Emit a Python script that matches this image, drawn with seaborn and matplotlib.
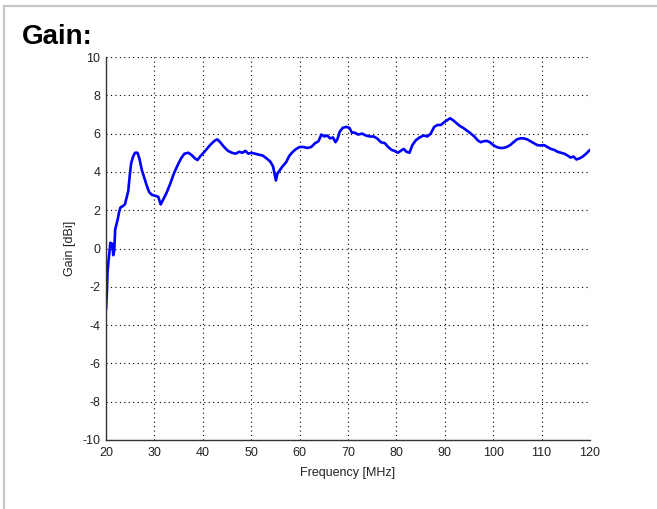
import matplotlib
matplotlib.use("Agg")
import matplotlib.pyplot as plt
from matplotlib.lines import Line2D
import pandas as pd
import seaborn as sns

# data
freq_mhz = [
    20.0, 20.2, 20.3, 20.5, 20.7, 20.9, 21.1, 21.3, 21.5, 21.7, 21.9, 22.1,
    22.4, 22.7, 23.0, 23.4, 23.9, 24.3, 24.6, 24.9, 25.2, 25.6, 26.0, 26.5,
    26.9, 27.4, 27.9, 28.4, 28.9, 29.5, 30.2, 30.8, 31.3, 31.8, 32.5, 33.3,
    34.0, 34.8, 35.5, 36.2, 37.0, 37.6, 38.4, 38.9, 39.6, 40.5, 41.5, 42.4,
    43.0, 43.6, 44.4, 45.2, 46.0, 46.8, 47.5, 48.2, 48.8, 49.4, 50.0, 50.8,
    51.6, 52.4, 53.2, 53.9, 54.5, 54.9, 55.1, 55.4, 55.8, 56.5, 57.2, 57.9,
    58.6, 59.3, 60.0, 60.8, 61.6, 62.4, 63.2, 63.9, 64.5, 65.1, 65.7, 66.3,
    66.9, 67.4, 67.8, 68.3, 68.9, 69.6, 70.3, 70.8, 71.4, 72.1, 72.9, 73.7,
    74.5, 75.3, 76.0, 76.8, 77.6, 78.3, 79.0, 79.6, 80.3, 80.9, 81.5, 82.1,
    82.7, 83.3, 84.0, 84.8, 85.6, 86.4, 87.1, 87.8, 88.5, 89.2, 89.9, 90.5,
    91.1, 91.7, 92.4, 93.1, 93.8, 94.6, 95.4, 96.1, 96.8, 97.4, 98.0, 98.7,
    99.3, 100.0, 100.7, 101.4, 102.1, 102.8, 103.5, 104.2, 104.9, 105.6, 106.3, 107.0,
    107.7, 108.4, 109.1, 109.8, 110.5, 111.2, 111.9, 112.6, 113.3, 114.0, 114.7, 115.4,
    116.0, 116.6, 117.2, 117.8, 118.5, 119.2, 120.0,
]
gain_dbi = [
    -3.2, -2.2, -1.3, -0.7, -0.2, 0.3, 0.1, 0.25, -0.35, -0.1, 1.0, 1.2,
    1.5, 1.9, 2.15, 2.2, 2.3, 2.7, 3.0, 3.8, 4.45, 4.8, 5.0, 5.0,
    4.7, 4.1, 3.7, 3.3, 2.95, 2.8, 2.75, 2.7, 2.3, 2.55, 2.9, 3.4,
    3.9, 4.35, 4.7, 4.95, 5.0, 4.9, 4.7, 4.62, 4.85, 5.1, 5.4, 5.62,
    5.7, 5.55, 5.3, 5.1, 5.0, 4.95, 5.05, 5.0, 5.1, 4.95, 5.0, 4.95,
    4.9, 4.85, 4.7, 4.55, 4.3, 3.8, 3.55, 3.9, 4.05, 4.3, 4.5, 4.85,
    5.05, 5.2, 5.3, 5.3, 5.25, 5.3, 5.5, 5.6, 5.95, 5.85, 5.9, 5.75,
    5.8, 5.55, 5.7, 6.1, 6.3, 6.35, 6.3, 6.05, 6.05, 5.95, 6.0, 5.9,
    5.85, 5.85, 5.75, 5.55, 5.5, 5.3, 5.15, 5.1, 5.0, 5.1, 5.2, 5.05,
    5.0, 5.4, 5.65, 5.8, 5.9, 5.85, 6.0, 6.35, 6.45, 6.45, 6.6, 6.7,
    6.8, 6.7, 6.55, 6.4, 6.3, 6.15, 6.0, 5.85, 5.65, 5.55, 5.6, 5.62,
    5.55, 5.4, 5.3, 5.25, 5.25, 5.3, 5.4, 5.55, 5.7, 5.75, 5.75, 5.7,
    5.6, 5.5, 5.4, 5.38, 5.4, 5.3, 5.2, 5.15, 5.05, 5.0, 4.95, 4.85,
    4.75, 4.8, 4.65, 4.7, 4.8, 4.95, 5.15,
]
x_ticks = list(range(20, 121, 10))
y_ticks = list(range(-10, 11, 2))

df = pd.DataFrame({"Frequency [MHz]": freq_mhz, "Gain [dBi]": gain_dbi})

sns.set_style("white")
plt.rcParams["font.family"] = ["Liberation Sans", "DejaVu Sans"]
plt.rcParams["axes.unicode_minus"] = False  # plain hyphen like the original

fig = plt.figure(figsize=(6.57, 5.09), dpi=100)
ax = fig.add_axes([106 / 657, 1 - 440 / 509, 484 / 657, 383 / 509])

sns.lineplot(data=df, x="Frequency [MHz]", y="Gain [dBi]", ax=ax,
             color="#0000ff", linewidth=1.9, estimator=None, sort=False)

ax.set_xlim(20, 120)
ax.set_ylim(-10, 10)
ax.set_xticks(x_ticks)
ax.set_yticks(y_ticks)

# dotted MATLAB-ish grid
ax.grid(True, color="black", linestyle=(0, (1, 3)), linewidth=0.8)
ax.set_axisbelow(True)

for s in ["top", "right"]:
    ax.spines[s].set_visible(False)
for s in ["left", "bottom"]:
    ax.spines[s].set_color("#333333")
    ax.spines[s].set_linewidth(1.0)

ax.tick_params(direction="in", length=4, width=0.8, color="#333333",
               labelsize=9, labelcolor="#222222")
ax.tick_params(axis="x", pad=5)
ax.tick_params(axis="y", pad=4)
ax.set_xlabel("Frequency [MHz]", fontsize=9, color="#222222", labelpad=6)
ax.set_ylabel("Gain [dBi]", fontsize=9, color="#222222", labelpad=5)

# title in the upper left
fig.text(22 / 657, 1 - 44 / 509, "Gain:", fontsize=20, fontweight="bold",
         ha="left", va="baseline", color="black")

# light gray panel border (top and left)
fig.add_artist(Line2D([4 / 657, 1], [1 - 6 / 509, 1 - 6 / 509],
                      transform=fig.transFigure, color="#c8c8c8", linewidth=1.6))
fig.add_artist(Line2D([4 / 657, 4 / 657], [0, 1 - 6 / 509],
                      transform=fig.transFigure, color="#c8c8c8", linewidth=1.6))

fig.savefig("out.png", dpi=100, facecolor="white")
